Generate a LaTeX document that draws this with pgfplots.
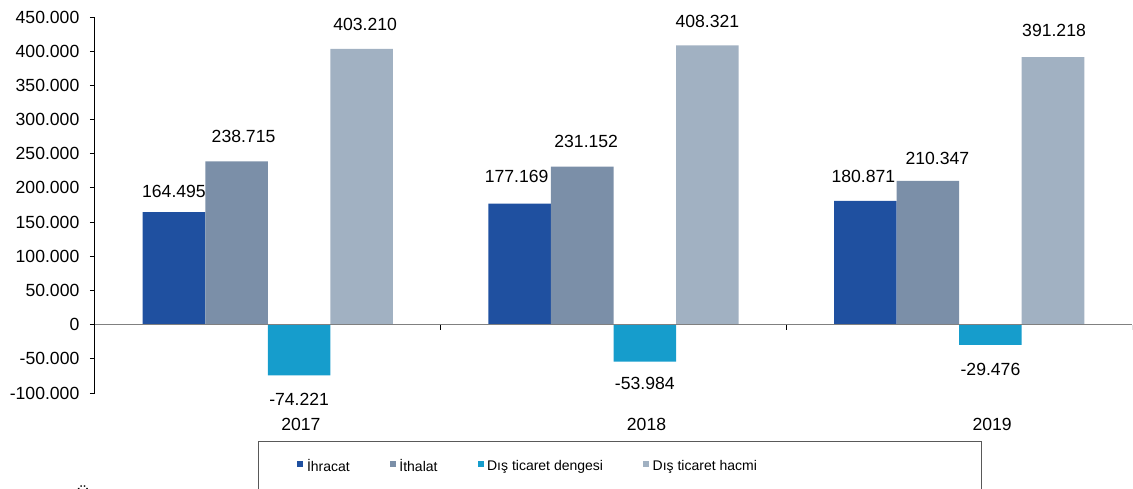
\documentclass[border=0pt]{standalone}
\usepackage{fontspec}
\setmainfont{Liberation Sans}
\usepackage{pgfplots}
\pgfplotsset{compat=1.18}
\usepackage{pgfplotstable}

\definecolor{cIhr}{HTML}{1F50A0}
\definecolor{cIth}{HTML}{7B8FA8}
\definecolor{cDen}{HTML}{169DCC}
\definecolor{cHac}{HTML}{A1B1C2}

\pgfplotstableread{
x y dx dy
0 164495 0 3.9
1 177169 -1.5 6.75
2 180871 -1 5.75
}\tIhr
\pgfplotstableread{
x y dx dy
0 238715 3.5 5.9
1 231152 2 6.1
2 210347 4.75 4.4
}\tIth
\pgfplotstableread{
x y dx dy
0 -74221 0 -5.2
1 -53984 0 -4.4
2 -29476 0 -5.5
}\tDen
\pgfplotstableread{
x y dx dy
0 403210 1.75 5.4
1 408321 0 5.55
2 391218 0.5 6.7
}\tHac

\begin{document}
\begin{tikzpicture}[font=\fontsize{8.8}{10.5}\selectfont]
\begin{axis}[
  scale only axis, width=518.5pt, height=188pt,
  xmin=-0.5, xmax=2.5, ymin=-100000, ymax=450000,
  axis x line*=bottom, axis y line*=left,
  x axis line style={draw=none},
  y axis line style={black, line width=0.5pt, -},
  ytick={-100000,-50000,...,450000},
  scaled y ticks=false,
  /pgf/number format/fixed,
  /pgf/number format/1000 sep={.},
  /pgf/number format/assume math mode=true,
  tick align=outside,
  major tick length=2.5pt,
  ytick style={black, line width=0.5pt},
  yticklabel style={xshift=-1.8pt},
  xtick={0,1,2}, xticklabels={2017,2018,2019},
  xtick style={draw=none},
  xticklabel style={yshift=-6.5pt, xshift=16.5pt},
  ybar, bar width=0.181,
  nodes near coords,
  nodes near coords align=vertical,
  visualization depends on={\thisrow{dx} \as \ldx},
  visualization depends on={\thisrow{dy} \as \ldy},
  every node near coord/.append style={xshift=\ldx pt, yshift=\ldy pt, text=black},
  legend image code/.code={\fill[#1] (0pt,-0.2pt) rectangle (3pt,2.8pt);},
  legend columns=4,
  legend style={at={(0,0)}, anchor=west, xshift=101pt, yshift=-37pt,
    draw=none, fill=none, inner sep=0pt,
    font=\fontsize{7}{8.2}\selectfont,
    nodes={inner sep=0pt},
    column sep=1.8pt,
    /tikz/every even column/.append style={column sep=20pt}},
]
\addplot[fill=cIhr, draw=none, bar shift=-0.2715, forget plot] table[x=x,y=y]{\tIhr};
\addplot[fill=cIth, draw=none, bar shift=-0.0905, forget plot] table[x=x,y=y]{\tIth};
\addplot[fill=cDen, draw=none, bar shift=0.0905, forget plot] table[x=x,y=y]{\tDen};
\addplot[fill=cHac, draw=none, bar shift=0.2715, forget plot] table[x=x,y=y]{\tHac};
\addlegendimage{fill=cIhr, draw=none}
\addlegendentry{İhracat}
\addlegendimage{fill=cIth, draw=none}
\addlegendentry{İthalat}
\addlegendimage{fill=cDen, draw=none}
\addlegendentry{Dış ticaret dengesi}
\addlegendimage{fill=cHac, draw=none}
\addlegendentry{Dış ticaret hacmi}
\draw[gray, line width=0.75pt] (axis cs:-0.5,0) -- (axis cs:2.5,0);
\draw[black, line width=0.5pt] (axis cs:0.5,0) -- ([yshift=-2.5pt]axis cs:0.5,0);
\draw[black, line width=0.5pt] (axis cs:1.5,0) -- ([yshift=-2.5pt]axis cs:1.5,0);
\draw[black, line width=0.5pt] (axis cs:2.5,0) -- ([yshift=-2.5pt]axis cs:2.5,0);
\end{axis}
\draw[black!65, line width=0.5pt] (81.5pt,-24pt) rectangle (443pt,-52pt);
\node[anchor=north, inner sep=0pt, font=\fontsize{8.8}{10}\selectfont] at (-6pt,-46.2pt) {Ü};
\pgfresetboundingbox
\useasboundingbox (-47.5pt,-47.5pt) rectangle (519pt,196.5pt);
\end{tikzpicture}
\end{document}
